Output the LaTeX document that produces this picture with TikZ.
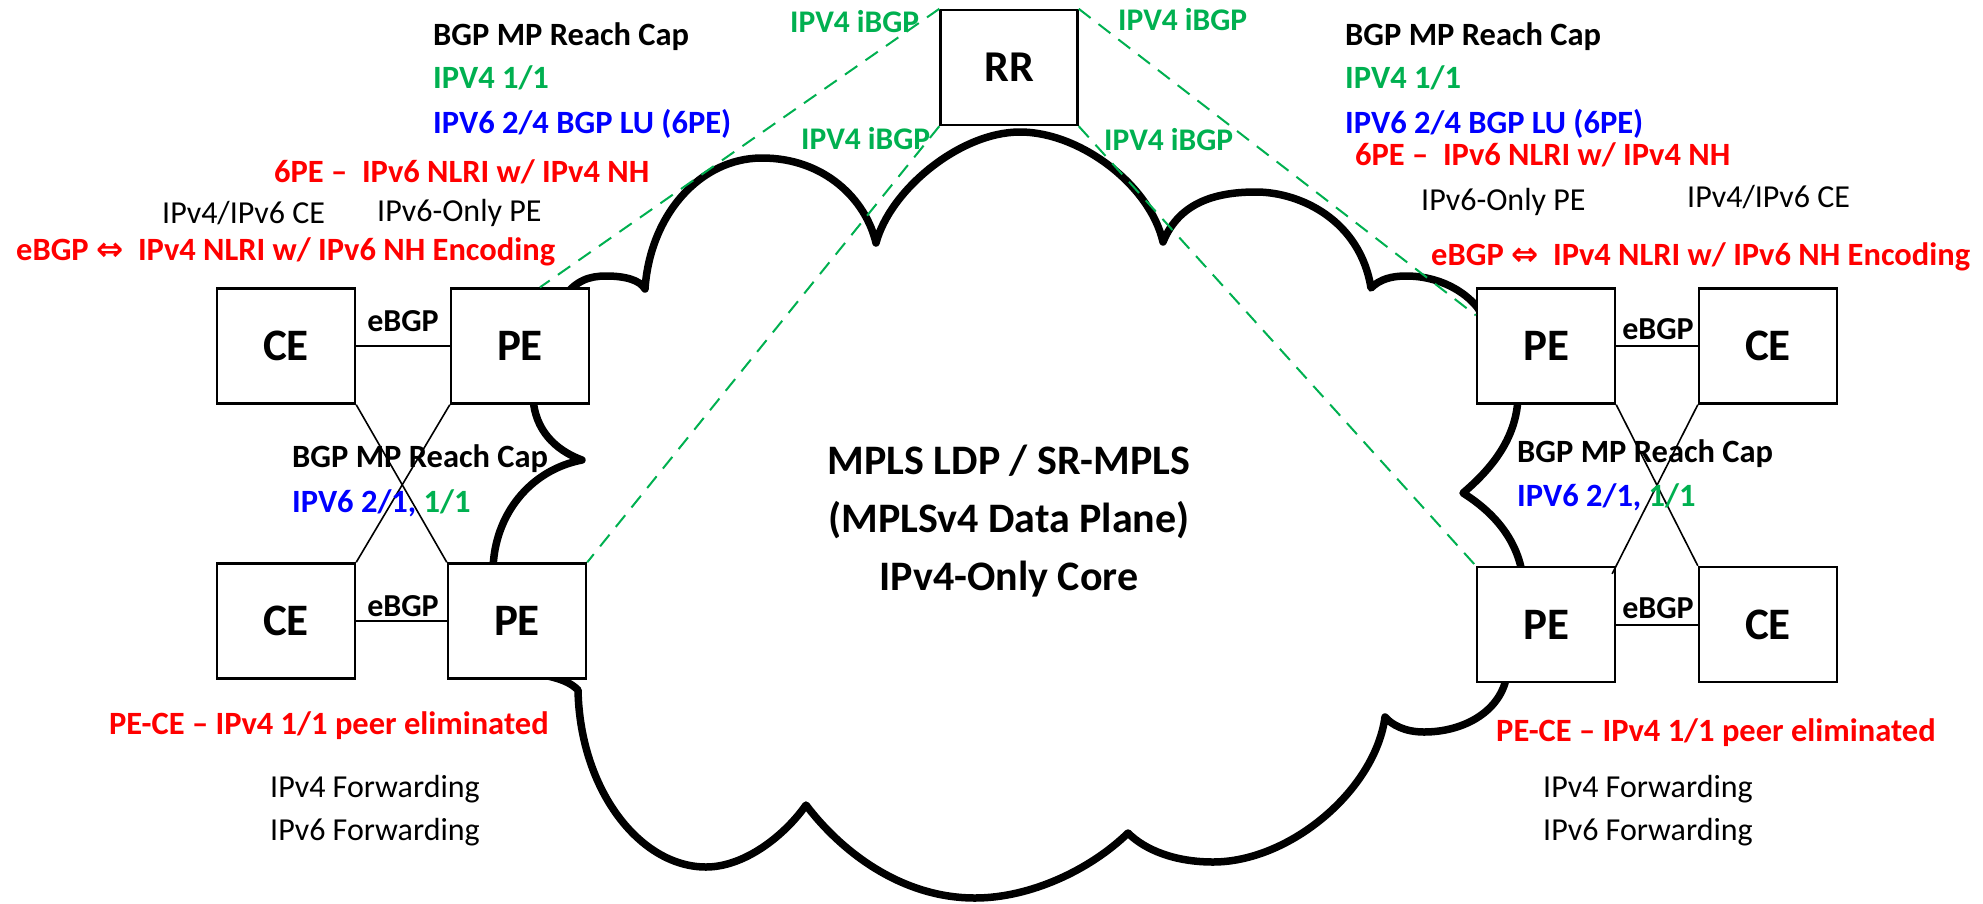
\documentclass[tikz,border=0pt]{standalone}
\usepackage{fontspec}
\setmainfont{Carlito}
\newfontfamily\arrowfont{DejaVu Sans}
\usetikzlibrary{calc}

\definecolor{lblgreen}{HTML}{00B050}
\definecolor{lblblue}{HTML}{0000FF}
\definecolor{lblred}{HTML}{FF0000}

\begin{document}
\begin{tikzpicture}[x=1pt,y=-1pt,
  lbl/.style={anchor=base west, inner sep=0pt, font=\fontsize{32.5}{38}\selectfont\bfseries},
  lblreg/.style={anchor=base west, inner sep=0pt, font=\fontsize{32}{38}\selectfont},
  ibgplbl/.style={anchor=base west, inner sep=0pt, text=lblgreen, font=\fontsize{31.5}{38}\selectfont\bfseries},
  linklbl/.style={anchor=base, inner sep=0pt, font=\fontsize{32}{38}\selectfont\bfseries},
  corelbl/.style={anchor=base, inner sep=0pt, font=\fontsize{42}{50}\selectfont\bfseries},
  router/.style={draw, line width=2.4pt, fill=white, minimum width=138pt, minimum height=115pt,
    inner sep=0pt, font=\fontsize{45}{50}\selectfont\bfseries},
  cloudline/.style={line width=7.5pt, line join=round, line cap=round},
  ibgp/.style={draw=lblgreen, line width=2pt, dash pattern=on 15pt off 10pt},
  peering/.style={line width=2pt},
  crossing/.style={line width=1.6pt}
]
\useasboundingbox (0,0) rectangle (1983,903);

% core cloud outline (parts under the routers are hidden by their white fill)
\draw[cloudline] (562,300)
  .. controls (575,280) and (590,276) .. (606,276)
  .. controls (625,276) and (640,280) .. (645,289)
  .. controls (650,215) and (700,158) .. (762,158)
  .. controls (825,158) and (866,200) .. (876,243)
  .. controls (890,190) and (960,132) .. (1020,132)
  .. controls (1080,132) and (1150,185) .. (1163,242)
  .. controls (1180,200) and (1220,192) .. (1256,192)
  .. controls (1300,192) and (1360,220) .. (1371,288)
  .. controls (1380,279) and (1392,276) .. (1406,276)
  .. controls (1440,276) and (1465,292) .. (1477,307)
  -- (1500,340) -- (1518,398)
  .. controls (1516,440) and (1490,470) .. (1463,493)
  .. controls (1490,510) and (1515,535) .. (1522,572)
  -- (1510,640) -- (1505,683)
  .. controls (1495,715) and (1460,732) .. (1424,732)
  .. controls (1405,732) and (1392,725) .. (1385,717)
  .. controls (1375,790) and (1290,862) .. (1213,862)
  .. controls (1175,862) and (1145,850) .. (1128,833)
  .. controls (1090,870) and (1030,898) .. (975,898)
  .. controls (900,898) and (840,850) .. (806,805)
  .. controls (785,835) and (745,867) .. (706,867)
  .. controls (640,867) and (580,790) .. (578,690)
  .. controls (570,682) and (560,679) .. (548,676)
  -- (520,620) -- (493,570)
  .. controls (494,515) and (530,470) .. (582,460)
  .. controls (555,450) and (535,430) .. (533,398)
  -- cycle;

% routers
\node[router, minimum width=137pt] (RR) at (1009,67.5) {\fontsize{44}{48}\selectfont RR};
\node[router] (CE1) at (286,346) {CE};
\node[router] (PE1) at (520,346) {PE};
\node[router] (CE2) at (286,621) {CE};
\node[router] (PE2) at (517,621) {PE};
\node[router] (PE3) at (1546,346) {PE};
\node[router] (CE3) at (1768,346) {CE};
\node[router] (PE4) at (1546,624.5) {PE};
\node[router] (CE4) at (1768,624.5) {CE};

% iBGP sessions to the route reflector
\draw[ibgp] (RR.north west) -- ([xshift=20pt]PE1.north);
\draw[ibgp] (RR.south west) -- (PE2.north east);
\draw[ibgp] (RR.north east) -- ([yshift=-28pt]PE3.north west);
\draw[ibgp] (RR.south east) -- (PE4.north west);

% eBGP sessions
\draw[peering] (CE1) -- (PE1);
\draw[peering] (CE2) -- (PE2);
\draw[peering] (PE3) -- (CE3);
\draw[peering] (PE4) -- (CE4);
\draw[crossing] (CE1.south east) -- (PE2.north west);
\draw[crossing] (PE1.south west) -- (CE2.north east);
\draw[crossing] (PE3.south east) -- (CE4.north west);
\draw[crossing] (CE3.south west) -- ($(CE3.south west)!1.05!(PE4.north east)$);

\node[linklbl] (e1) at (403,331) {eBGP};
\node[linklbl] (e2) at (403,616) {eBGP};
\node[linklbl] (e3) at (1658,339) {eBGP};
\node[linklbl] (e4) at (1658,618) {eBGP};

% iBGP labels
\node[ibgplbl] (i1) at (790,32) {IPV4 iBGP};
\node[ibgplbl] (i2) at (801,149) {IPV4 iBGP};
\node[ibgplbl] (i3) at (1118,30) {IPV4 iBGP};
\node[ibgplbl] (i4) at (1104,150) {IPV4 iBGP};

% left site annotations
\node[lbl] (l1) at (433,45) {BGP MP Reach Cap};
\node[lbl, text=lblgreen] (l2) at (433,88) {IPV4 1/1};
\node[lbl, text=lblblue] (l3) at (433,133) {IPV6 2/4 BGP LU (6PE)};
\node[lbl, text=lblred] (l4) at (274,182) {6PE –\ \ IPv6 NLRI w/ IPv4 NH};
\node[lblreg] (l5) at (162,223) {IPv4/IPv6 CE};
\node[lblreg] (l6) at (377,221) {IPv6-Only PE};
\node[lbl, text=lblred] (l7) at (16,260) {eBGP {\arrowfont\bfseries ⇔}\ \ IPv4 NLRI w/ IPv6 NH Encoding};
\node[lbl] (l8) at (292,467) {BGP MP Reach Cap};
\node[lbl] (l9) at (292,512) {\textcolor{lblblue}{IPV6 2/1,} \textcolor{lblgreen}{1/1}};
\node[lbl, text=lblred] (l10) at (109,734) {PE-CE – IPv4 1/1 peer eliminated};
\node[lblreg] (l11) at (270,797) {IPv4 Forwarding};
\node[lblreg] (l12) at (270,840) {IPv6 Forwarding};

% right site annotations
\node[lbl] (r1) at (1345,45) {BGP MP Reach Cap};
\node[lbl, text=lblgreen] (r2) at (1345,88) {IPV4 1/1};
\node[lbl, text=lblblue] (r3) at (1345,133) {IPV6 2/4 BGP LU (6PE)};
\node[lbl, text=lblred] (r4) at (1355,165) {6PE –\ \ IPv6 NLRI w/ IPv4 NH};
\node[lblreg] (r5) at (1421,210) {IPv6-Only PE};
\node[lblreg] (r6) at (1687,207) {IPv4/IPv6 CE};
\node[lbl, text=lblred] (r7) at (1431,265) {eBGP {\arrowfont\bfseries ⇔}\ \ IPv4 NLRI w/ IPv6 NH Encoding};
\node[lbl] (r8) at (1517,462) {BGP MP Reach Cap};
\node[lbl] (r9) at (1517,506) {\textcolor{lblblue}{IPV6 2/1,} \textcolor{lblgreen}{1/1}};
\node[lbl, text=lblred] (r10) at (1496,741) {PE-CE – IPv4 1/1 peer eliminated};
\node[lblreg] (r11) at (1543,797) {IPv4 Forwarding};
\node[lblreg] (r12) at (1543,840) {IPv6 Forwarding};

% core description
\node[corelbl] (c1) at (1009,474) {MPLS LDP / SR-MPLS};
\node[corelbl] (c2) at (1009,532) {(MPLSv4 Data Plane)};
\node[corelbl] (c3) at (1009,590) {IPv4-Only Core};
\end{tikzpicture}
\end{document}
